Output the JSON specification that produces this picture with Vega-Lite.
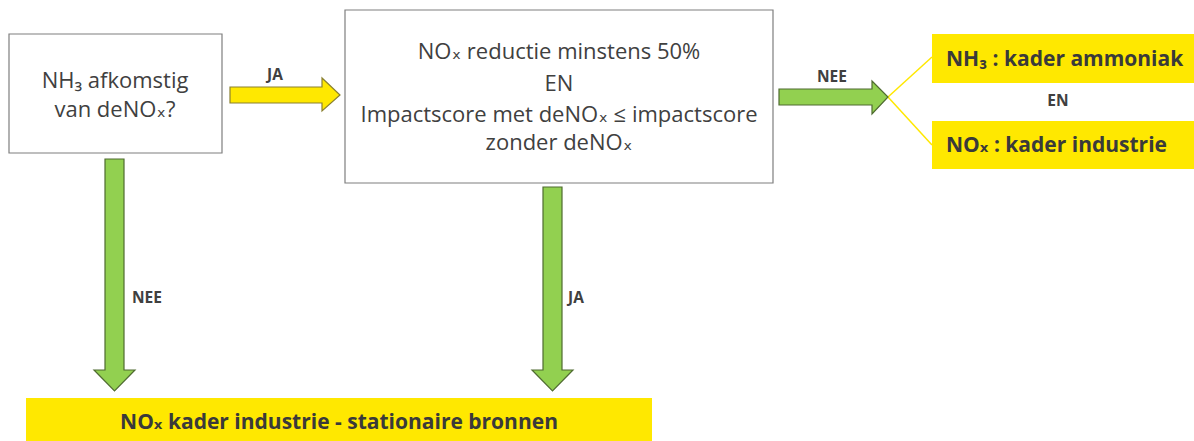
{
  "$schema": "https://vega.github.io/schema/vega-lite/v6.json",
  "width": 1194,
  "height": 441,
  "padding": 0,
  "autosize": {"type": "fit", "contains": "padding"},
  "background": "white",
  "config": {"view": {"stroke": null}},
  "datasets": {
    "boxes": [
      {"box": "vraag", "x1": 9, "x2": 222, "y1": 34, "y2": 153, "kind": "white"},
      {"box": "voorwaarde", "x1": 345, "x2": 773, "y1": 10, "y2": 183, "kind": "white"},
      {"box": "nh3", "x1": 932, "x2": 1194, "y1": 34, "y2": 83, "kind": "yellow"},
      {"box": "nox", "x1": 932, "x2": 1194, "y1": 121, "y2": 169, "kind": "yellow"},
      {"box": "onder", "x1": 26, "x2": 652, "y1": 398, "y2": 441, "kind": "yellow"}
    ],
    "harrows": [
      {"arrow": "ja", "px": 230, "py1": 87, "py2": 103},
      {"arrow": "ja", "px": 322, "py1": 87, "py2": 103},
      {"arrow": "ja", "px": 322.01, "py1": 78, "py2": 111},
      {"arrow": "ja", "px": 340, "py1": 95, "py2": 95},
      {"arrow": "nee", "px": 779, "py1": 89, "py2": 105},
      {"arrow": "nee", "px": 872, "py1": 89, "py2": 105},
      {"arrow": "nee", "px": 872.01, "py1": 81, "py2": 114},
      {"arrow": "nee", "px": 888, "py1": 97, "py2": 97}
    ],
    "varrows": [
      {"arrow": "links", "py": 159, "px1": 105, "px2": 124},
      {"arrow": "links", "py": 370, "px1": 105, "px2": 124},
      {"arrow": "links", "py": 370.01, "px1": 94, "px2": 135},
      {"arrow": "links", "py": 391, "px1": 114.5, "px2": 114.5},
      {"arrow": "midden", "py": 187, "px1": 543, "px2": 562},
      {"arrow": "midden", "py": 370, "px1": 543, "px2": 562},
      {"arrow": "midden", "py": 370.01, "px1": 532, "px2": 573},
      {"arrow": "midden", "py": 391, "px1": 552.5, "px2": 552.5}
    ],
    "links": [
      {"x1": 888, "y1": 97, "x2": 932, "y2": 57},
      {"x1": 888, "y1": 97, "x2": 932, "y2": 145}
    ],
    "tekst": [
      {"t": "NH₃ afkomstig", "x": 115, "y": 81},
      {"t": "van deNOₓ?", "x": 115, "y": 110},
      {"t": "NOₓ reductie minstens 50%", "x": 559, "y": 52},
      {"t": "EN", "x": 559, "y": 84},
      {"t": "Impactscore met deNOₓ ≤ impactscore", "x": 559, "y": 115},
      {"t": "zonder deNOₓ", "x": 559, "y": 143}
    ],
    "labels": [
      {"t": "JA", "x": 275, "y": 75},
      {"t": "NEE", "x": 832, "y": 77},
      {"t": "NEE", "x": 147, "y": 298},
      {"t": "JA", "x": 576, "y": 298},
      {"t": "EN", "x": 1058, "y": 101}
    ],
    "kaders": [
      {"t": "NH₃ : kader ammoniak", "x": 946, "y": 60, "a": "left"},
      {"t": "NOₓ : kader industrie", "x": 946, "y": 146, "a": "left"},
      {"t": "NOₓ kader industrie - stationaire bronnen", "x": 339, "y": 423, "a": "center"}
    ]
  },
  "layer": [
    {
      "data": {"name": "boxes"},
      "transform": [{"filter": "datum.kind === 'white'"}],
      "mark": {"type": "rect", "fill": "white", "stroke": "#7f7f7f", "strokeWidth": 1.2},
      "encoding": {
        "x": {"field": "x1", "type": "quantitative", "scale": {"domain": [0, 1194], "nice": false, "zero": false}, "axis": null},
        "x2": {"field": "x2"},
        "y": {"field": "y1", "type": "quantitative", "scale": {"domain": [0, 441], "nice": false, "zero": false, "reverse": true}, "axis": null},
        "y2": {"field": "y2"}
      }
    },
    {
      "data": {"name": "boxes"},
      "transform": [{"filter": "datum.kind === 'yellow'"}],
      "mark": {"type": "rect", "fill": "#FFE800", "stroke": null},
      "encoding": {
        "x": {"field": "x1", "type": "quantitative"},
        "x2": {"field": "x2"},
        "y": {"field": "y1", "type": "quantitative"},
        "y2": {"field": "y2"}
      }
    },
    {
      "data": {"name": "links"},
      "mark": {"type": "rule", "stroke": "#FFE800", "strokeWidth": 1.5},
      "encoding": {
        "x": {"field": "x1", "type": "quantitative"},
        "x2": {"field": "x2"},
        "y": {"field": "y1", "type": "quantitative"},
        "y2": {"field": "y2"}
      }
    },
    {
      "data": {"name": "harrows"},
      "mark": {"type": "area", "orient": "vertical", "strokeWidth": 1.2, "opacity": 1, "fillOpacity": 1},
      "encoding": {
        "x": {"field": "px", "type": "quantitative"},
        "y": {"field": "py1", "type": "quantitative", "stack": null},
        "y2": {"field": "py2"},
        "detail": {"field": "arrow"},
        "fill": {"field": "arrow", "type": "nominal", "scale": {"domain": ["ja", "nee"], "range": ["#FFE800", "#92D050"]}, "legend": null},
        "stroke": {"field": "arrow", "type": "nominal", "scale": {"domain": ["ja", "nee"], "range": ["#8a8030", "#4f6b30"]}, "legend": null}
      }
    },
    {
      "data": {"name": "varrows"},
      "mark": {"type": "area", "orient": "horizontal", "fill": "#92D050", "stroke": "#4f6b30", "strokeWidth": 1.2, "opacity": 1, "fillOpacity": 1},
      "encoding": {
        "y": {"field": "py", "type": "quantitative"},
        "x": {"field": "px1", "type": "quantitative", "stack": null},
        "x2": {"field": "px2"},
        "detail": {"field": "arrow"}
      }
    },
    {
      "data": {"name": "tekst"},
      "mark": {"type": "text", "font": "'Open Sans', 'DejaVu Sans', sans-serif", "fontSize": 22, "color": "#404040", "align": "center", "baseline": "middle"},
      "encoding": {
        "x": {"field": "x", "type": "quantitative"},
        "y": {"field": "y", "type": "quantitative"},
        "text": {"field": "t"}
      }
    },
    {
      "data": {"name": "labels"},
      "mark": {"type": "text", "font": "'Open Sans', 'DejaVu Sans', sans-serif", "fontSize": 15.5, "fontWeight": "bold", "color": "#404040", "align": "center", "baseline": "middle"},
      "encoding": {
        "x": {"field": "x", "type": "quantitative"},
        "y": {"field": "y", "type": "quantitative"},
        "text": {"field": "t"}
      }
    },
    {
      "data": {"name": "kaders"},
      "transform": [{"filter": "datum.a === 'left'"}],
      "mark": {"type": "text", "font": "'Open Sans', 'DejaVu Sans', sans-serif", "fontSize": 21, "fontWeight": "bold", "color": "#3a3a3a", "align": "left", "baseline": "middle"},
      "encoding": {
        "x": {"field": "x", "type": "quantitative"},
        "y": {"field": "y", "type": "quantitative"},
        "text": {"field": "t"}
      }
    },
    {
      "data": {"name": "kaders"},
      "transform": [{"filter": "datum.a === 'center'"}],
      "mark": {"type": "text", "font": "'Open Sans', 'DejaVu Sans', sans-serif", "fontSize": 21, "fontWeight": "bold", "color": "#3a3a3a", "align": "center", "baseline": "middle"},
      "encoding": {
        "x": {"field": "x", "type": "quantitative"},
        "y": {"field": "y", "type": "quantitative"},
        "text": {"field": "t"}
      }
    }
  ]
}
